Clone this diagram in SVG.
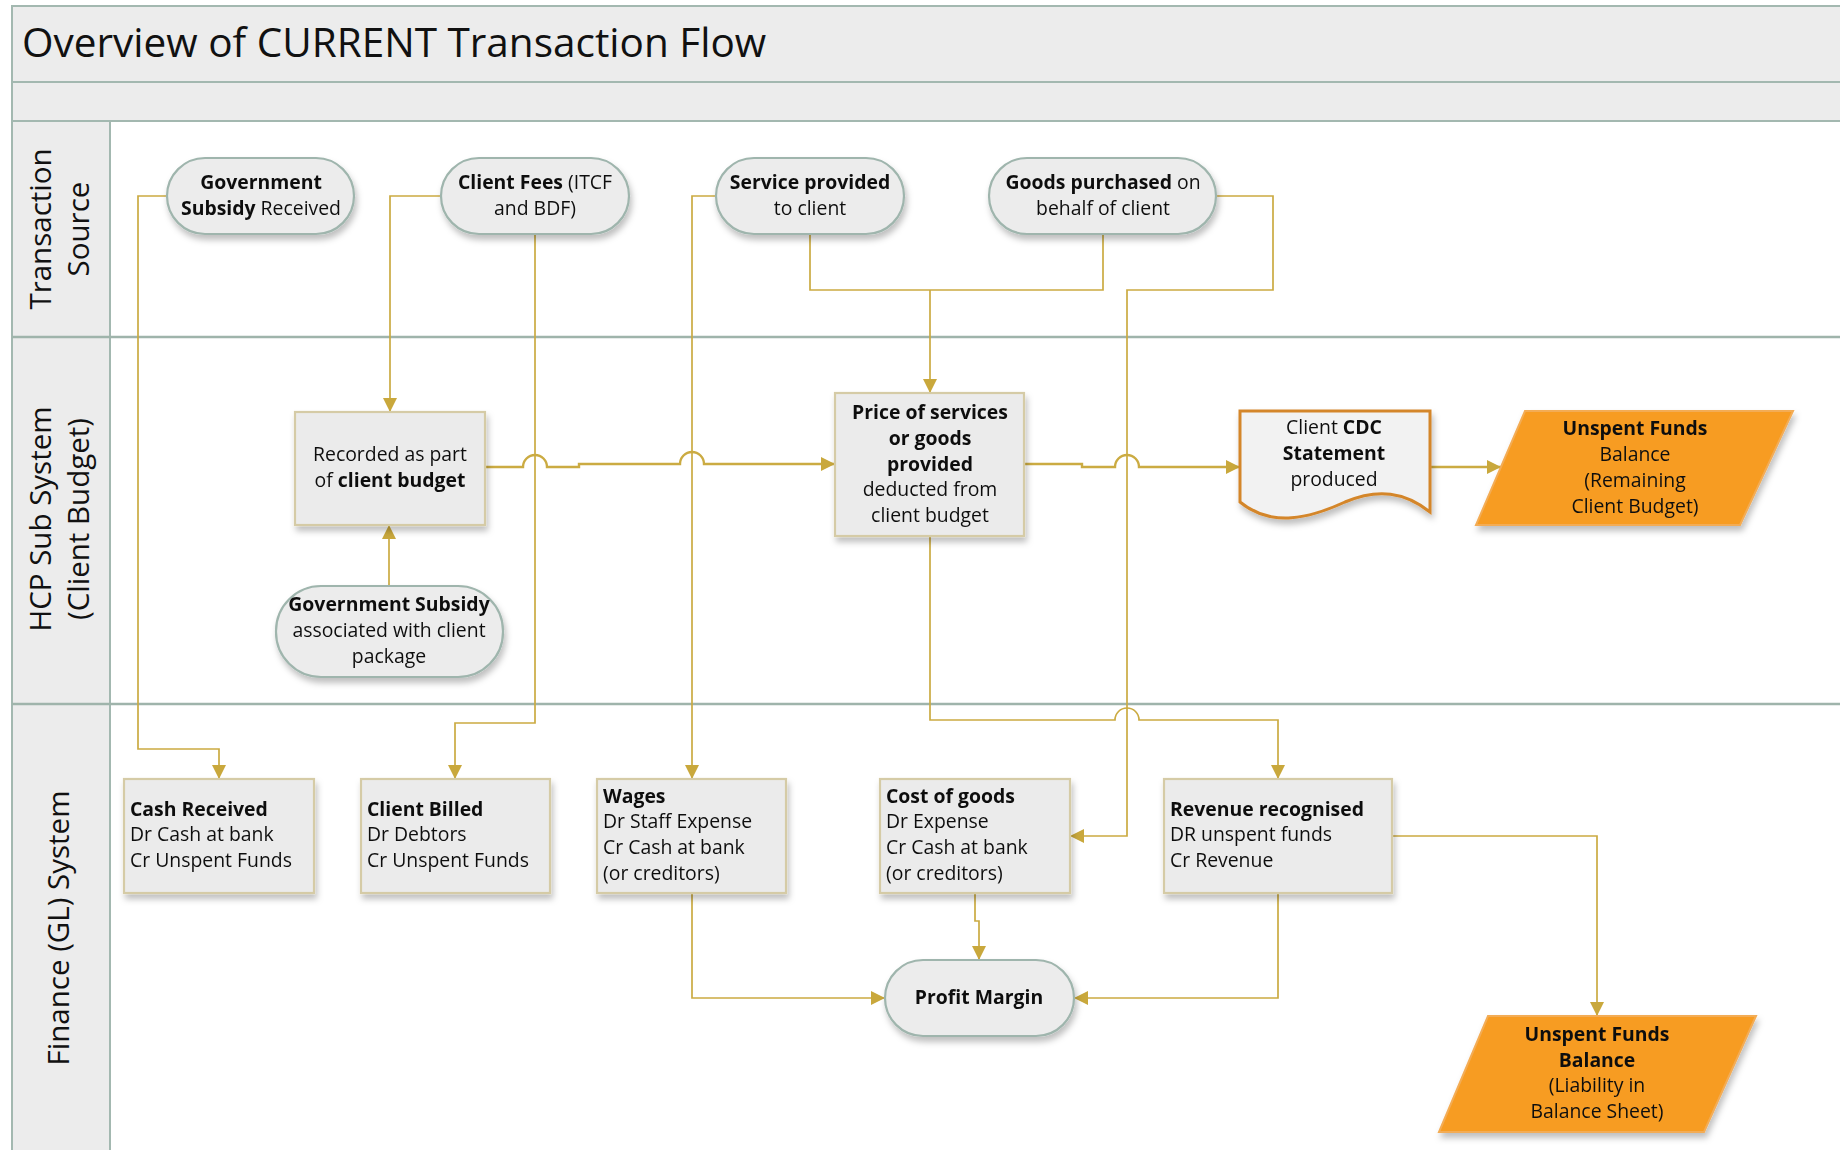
<svg xmlns="http://www.w3.org/2000/svg" width="1840" height="1150" viewBox="0 0 1840 1150">
  <style>
    .band { fill: #ececec; stroke: #a3b8b0; stroke-width: 2; }
    .lane-line { stroke: #9fb4ab; stroke-width: 2.5; fill: none; }
    .title { font-family: "Open Sans", "Noto Sans", sans-serif; font-size: 40.5px; fill: #111; }
    .lane { font-family: "Open Sans", "Noto Sans", sans-serif; font-size: 29.5px; fill: #111; text-anchor: middle; }
    .term { fill: #ececec; stroke: #9fb5ad; stroke-width: 2.2; }
    .box { fill: #ebebeb; stroke: #d5cba6; stroke-width: 2.2; }
    .doc { fill: #f2f2f2; stroke: #d4862a; stroke-width: 3; }
    .para { fill: #f79c22; stroke: #f3ac55; stroke-width: 2; }
    .t { font-family: "Open Sans", "Noto Sans", sans-serif; font-size: 19.4px; fill: #111; }
    .c { text-anchor: middle; }
    .b { font-weight: 700; }
    .conn { fill: none; stroke: #cbab42; stroke-width: 1.7; }
    .flow { fill: none; stroke: #cbab42; stroke-width: 2.4; }
  </style>
  <defs>
    <marker id="arrow" viewBox="0 0 14 14" refX="14" refY="7" markerWidth="14" markerHeight="14" markerUnits="userSpaceOnUse" orient="auto">
      <path d="M0,0 L14,7 L0,14 z" fill="#c9a83c"/>
    </marker>
    <filter id="shadow" x="-20%" y="-20%" width="140%" height="150%">
      <feDropShadow dx="2" dy="5" stdDeviation="3" flood-color="#000" flood-opacity="0.25"/>
    </filter>
  </defs>

  <!-- page background -->
  <rect x="0" y="0" width="1840" height="1150" fill="#ffffff"/>

  <!-- swimlane frame -->
  <g id="frame">
    <rect class="band" x="12" y="6" width="1840" height="76"/>
    <rect class="band" x="12" y="82" width="1840" height="39"/>
    <rect class="band" x="12" y="121" width="98" height="1040"/>
    <line class="lane-line" x1="12" y1="337" x2="1840" y2="337"/>
    <line class="lane-line" x1="12" y1="704" x2="1840" y2="704"/>
    <text class="title" x="22" y="57">Overview of CURRENT Transaction Flow</text>
    <text class="lane" transform="translate(51,229) rotate(-90)">Transaction</text>
    <text class="lane" transform="translate(89,229) rotate(-90)">Source</text>
    <text class="lane" transform="translate(51,519) rotate(-90)">HCP Sub System</text>
    <text class="lane" transform="translate(89,519) rotate(-90)">(Client Budget)</text>
    <text class="lane" transform="translate(69,928) rotate(-90)">Finance (GL) System</text>
  </g>

  <!-- connectors -->
  <g id="connectors">
    <path class="conn" d="M167,196 H138 V749 H219 V779" marker-end="url(#arrow)"/>
    <path class="conn" d="M441,196 H390 V412" marker-end="url(#arrow)"/>
    <path class="conn" d="M535,234 V723 H455 V779" marker-end="url(#arrow)"/>
    <path class="conn" d="M716,196 H692 V779" marker-end="url(#arrow)"/>
    <path class="conn" d="M810,234 V290 H1103 V234"/>
    <path class="conn" d="M930,290 V393" marker-end="url(#arrow)"/>
    <path class="conn" d="M1216,196 H1273 V290 H1127 V836 H1070" marker-end="url(#arrow)"/>
    <path class="conn" d="M389,586 V525" marker-end="url(#arrow)"/>
    <path class="flow" d="M485,467 H523 A12,12 0 0 1 547,467 H579 V464 H680 A12,12 0 0 1 704,464 H835" marker-end="url(#arrow)"/>
    <path class="flow" d="M1024,464 H1082 V467 H1115 A12,12 0 0 1 1139,467 H1240" marker-end="url(#arrow)"/>
    <path class="flow" d="M1430,467 H1501" marker-end="url(#arrow)"/>
    <path class="conn" d="M930,536 V720 H1115 A12,12 0 0 1 1139,720 H1278 V779" marker-end="url(#arrow)"/>
    <path class="conn" d="M692,893 V998 H885" marker-end="url(#arrow)"/>
    <path class="conn" d="M975,893 V921 H979 V960" marker-end="url(#arrow)"/>
    <path class="conn" d="M1278,893 V998 H1074" marker-end="url(#arrow)"/>
    <path class="conn" d="M1392,836 H1597 V1016" marker-end="url(#arrow)"/>
  </g>

  <!-- Transaction Source lane -->
  <g id="gov-subsidy-received" filter="url(#shadow)">
    <rect class="term" x="167" y="158" width="187" height="76" rx="38"/>
    <text class="t c" x="261" y="189"><tspan class="b">Government</tspan></text>
    <text class="t c" x="261" y="215"><tspan class="b">Subsidy</tspan> Received</text>
  </g>
  <g id="client-fees" filter="url(#shadow)">
    <rect class="term" x="441" y="158" width="188" height="76" rx="38"/>
    <text class="t c" x="535" y="189"><tspan class="b">Client Fees</tspan> (ITCF</text>
    <text class="t c" x="535" y="215">and BDF)</text>
  </g>
  <g id="service-provided" filter="url(#shadow)">
    <rect class="term" x="716" y="158" width="188" height="76" rx="38"/>
    <text class="t c" x="810" y="189"><tspan class="b">Service provided</tspan></text>
    <text class="t c" x="810" y="215">to client</text>
  </g>
  <g id="goods-purchased" filter="url(#shadow)">
    <rect class="term" x="989" y="158" width="227" height="76" rx="38"/>
    <text class="t c" x="1103" y="189"><tspan class="b">Goods purchased</tspan> on</text>
    <text class="t c" x="1103" y="215">behalf of client</text>
  </g>

  <!-- HCP Sub System lane -->
  <g id="recorded-budget" filter="url(#shadow)">
    <rect class="box" x="295" y="412" width="190" height="113"/>
    <text class="t c" x="390" y="461">Recorded as part</text>
    <text class="t c" x="390" y="487">of <tspan class="b">client budget</tspan></text>
  </g>
  <g id="gov-subsidy-package" filter="url(#shadow)">
    <rect class="term" x="276" y="586" width="227" height="91" rx="45"/>
    <text class="t c" x="389" y="611"><tspan class="b">Government Subsidy</tspan></text>
    <text class="t c" x="389" y="637">associated with client</text>
    <text class="t c" x="389" y="663">package</text>
  </g>
  <g id="price-deducted" filter="url(#shadow)">
    <rect class="box" x="835" y="393" width="189" height="143"/>
    <text class="t c b" x="930" y="419">Price of services</text>
    <text class="t c b" x="930" y="445">or goods</text>
    <text class="t c b" x="930" y="471">provided</text>
    <text class="t c" x="930" y="496">deducted from</text>
    <text class="t c" x="930" y="522">client budget</text>
  </g>
  <g id="cdc-statement" filter="url(#shadow)">
    <path class="doc" d="M1240,411 H1430 V512 C1405,492 1378,488 1345,502 C1310,518 1272,528 1240,502 Z"/>
    <text class="t c" x="1334" y="434">Client <tspan class="b">CDC</tspan></text>
    <text class="t c b" x="1334" y="460">Statement</text>
    <text class="t c" x="1334" y="486">produced</text>
  </g>
  <g id="unspent-remaining" filter="url(#shadow)">
    <path class="para" d="M1525,411 H1793 L1740,525 H1476 Z"/>
    <text class="t c b" x="1635" y="435">Unspent Funds</text>
    <text class="t c" x="1635" y="461">Balance</text>
    <text class="t c" x="1635" y="487">(Remaining</text>
    <text class="t c" x="1635" y="513">Client Budget)</text>
  </g>

  <!-- Finance (GL) System lane -->
  <g id="cash-received" filter="url(#shadow)">
    <rect class="box" x="124" y="779" width="190" height="114"/>
    <text class="t" x="130" y="816"><tspan class="b">Cash Received</tspan></text>
    <text class="t" x="130" y="841">Dr Cash at bank</text>
    <text class="t" x="130" y="867">Cr Unspent Funds</text>
  </g>
  <g id="client-billed" filter="url(#shadow)">
    <rect class="box" x="361" y="779" width="189" height="114"/>
    <text class="t" x="367" y="816"><tspan class="b">Client Billed</tspan></text>
    <text class="t" x="367" y="841">Dr Debtors</text>
    <text class="t" x="367" y="867">Cr Unspent Funds</text>
  </g>
  <g id="wages" filter="url(#shadow)">
    <rect class="box" x="597" y="779" width="189" height="114"/>
    <text class="t" x="603" y="803"><tspan class="b">Wages</tspan></text>
    <text class="t" x="603" y="828">Dr Staff Expense</text>
    <text class="t" x="603" y="854">Cr Cash at bank</text>
    <text class="t" x="603" y="880">(or creditors)</text>
  </g>
  <g id="cost-of-goods" filter="url(#shadow)">
    <rect class="box" x="880" y="779" width="190" height="114"/>
    <text class="t" x="886" y="803"><tspan class="b">Cost of goods</tspan></text>
    <text class="t" x="886" y="828">Dr Expense</text>
    <text class="t" x="886" y="854">Cr Cash at bank</text>
    <text class="t" x="886" y="880">(or creditors)</text>
  </g>
  <g id="revenue-recognised" filter="url(#shadow)">
    <rect class="box" x="1164" y="779" width="228" height="114"/>
    <text class="t" x="1170" y="816"><tspan class="b">Revenue recognised</tspan></text>
    <text class="t" x="1170" y="841">DR unspent funds</text>
    <text class="t" x="1170" y="867">Cr Revenue</text>
  </g>
  <g id="profit-margin" filter="url(#shadow)">
    <rect class="term" x="885" y="960" width="189" height="76" rx="38"/>
    <text class="t c b" x="979" y="1004">Profit Margin</text>
  </g>
  <g id="unspent-liability" filter="url(#shadow)">
    <path class="para" d="M1488,1016 H1756 L1704,1132 H1439 Z"/>
    <text class="t c b" x="1597" y="1041">Unspent Funds</text>
    <text class="t c b" x="1597" y="1067">Balance</text>
    <text class="t c" x="1597" y="1092">(Liability in</text>
    <text class="t c" x="1597" y="1118">Balance Sheet)</text>
  </g>
</svg>
